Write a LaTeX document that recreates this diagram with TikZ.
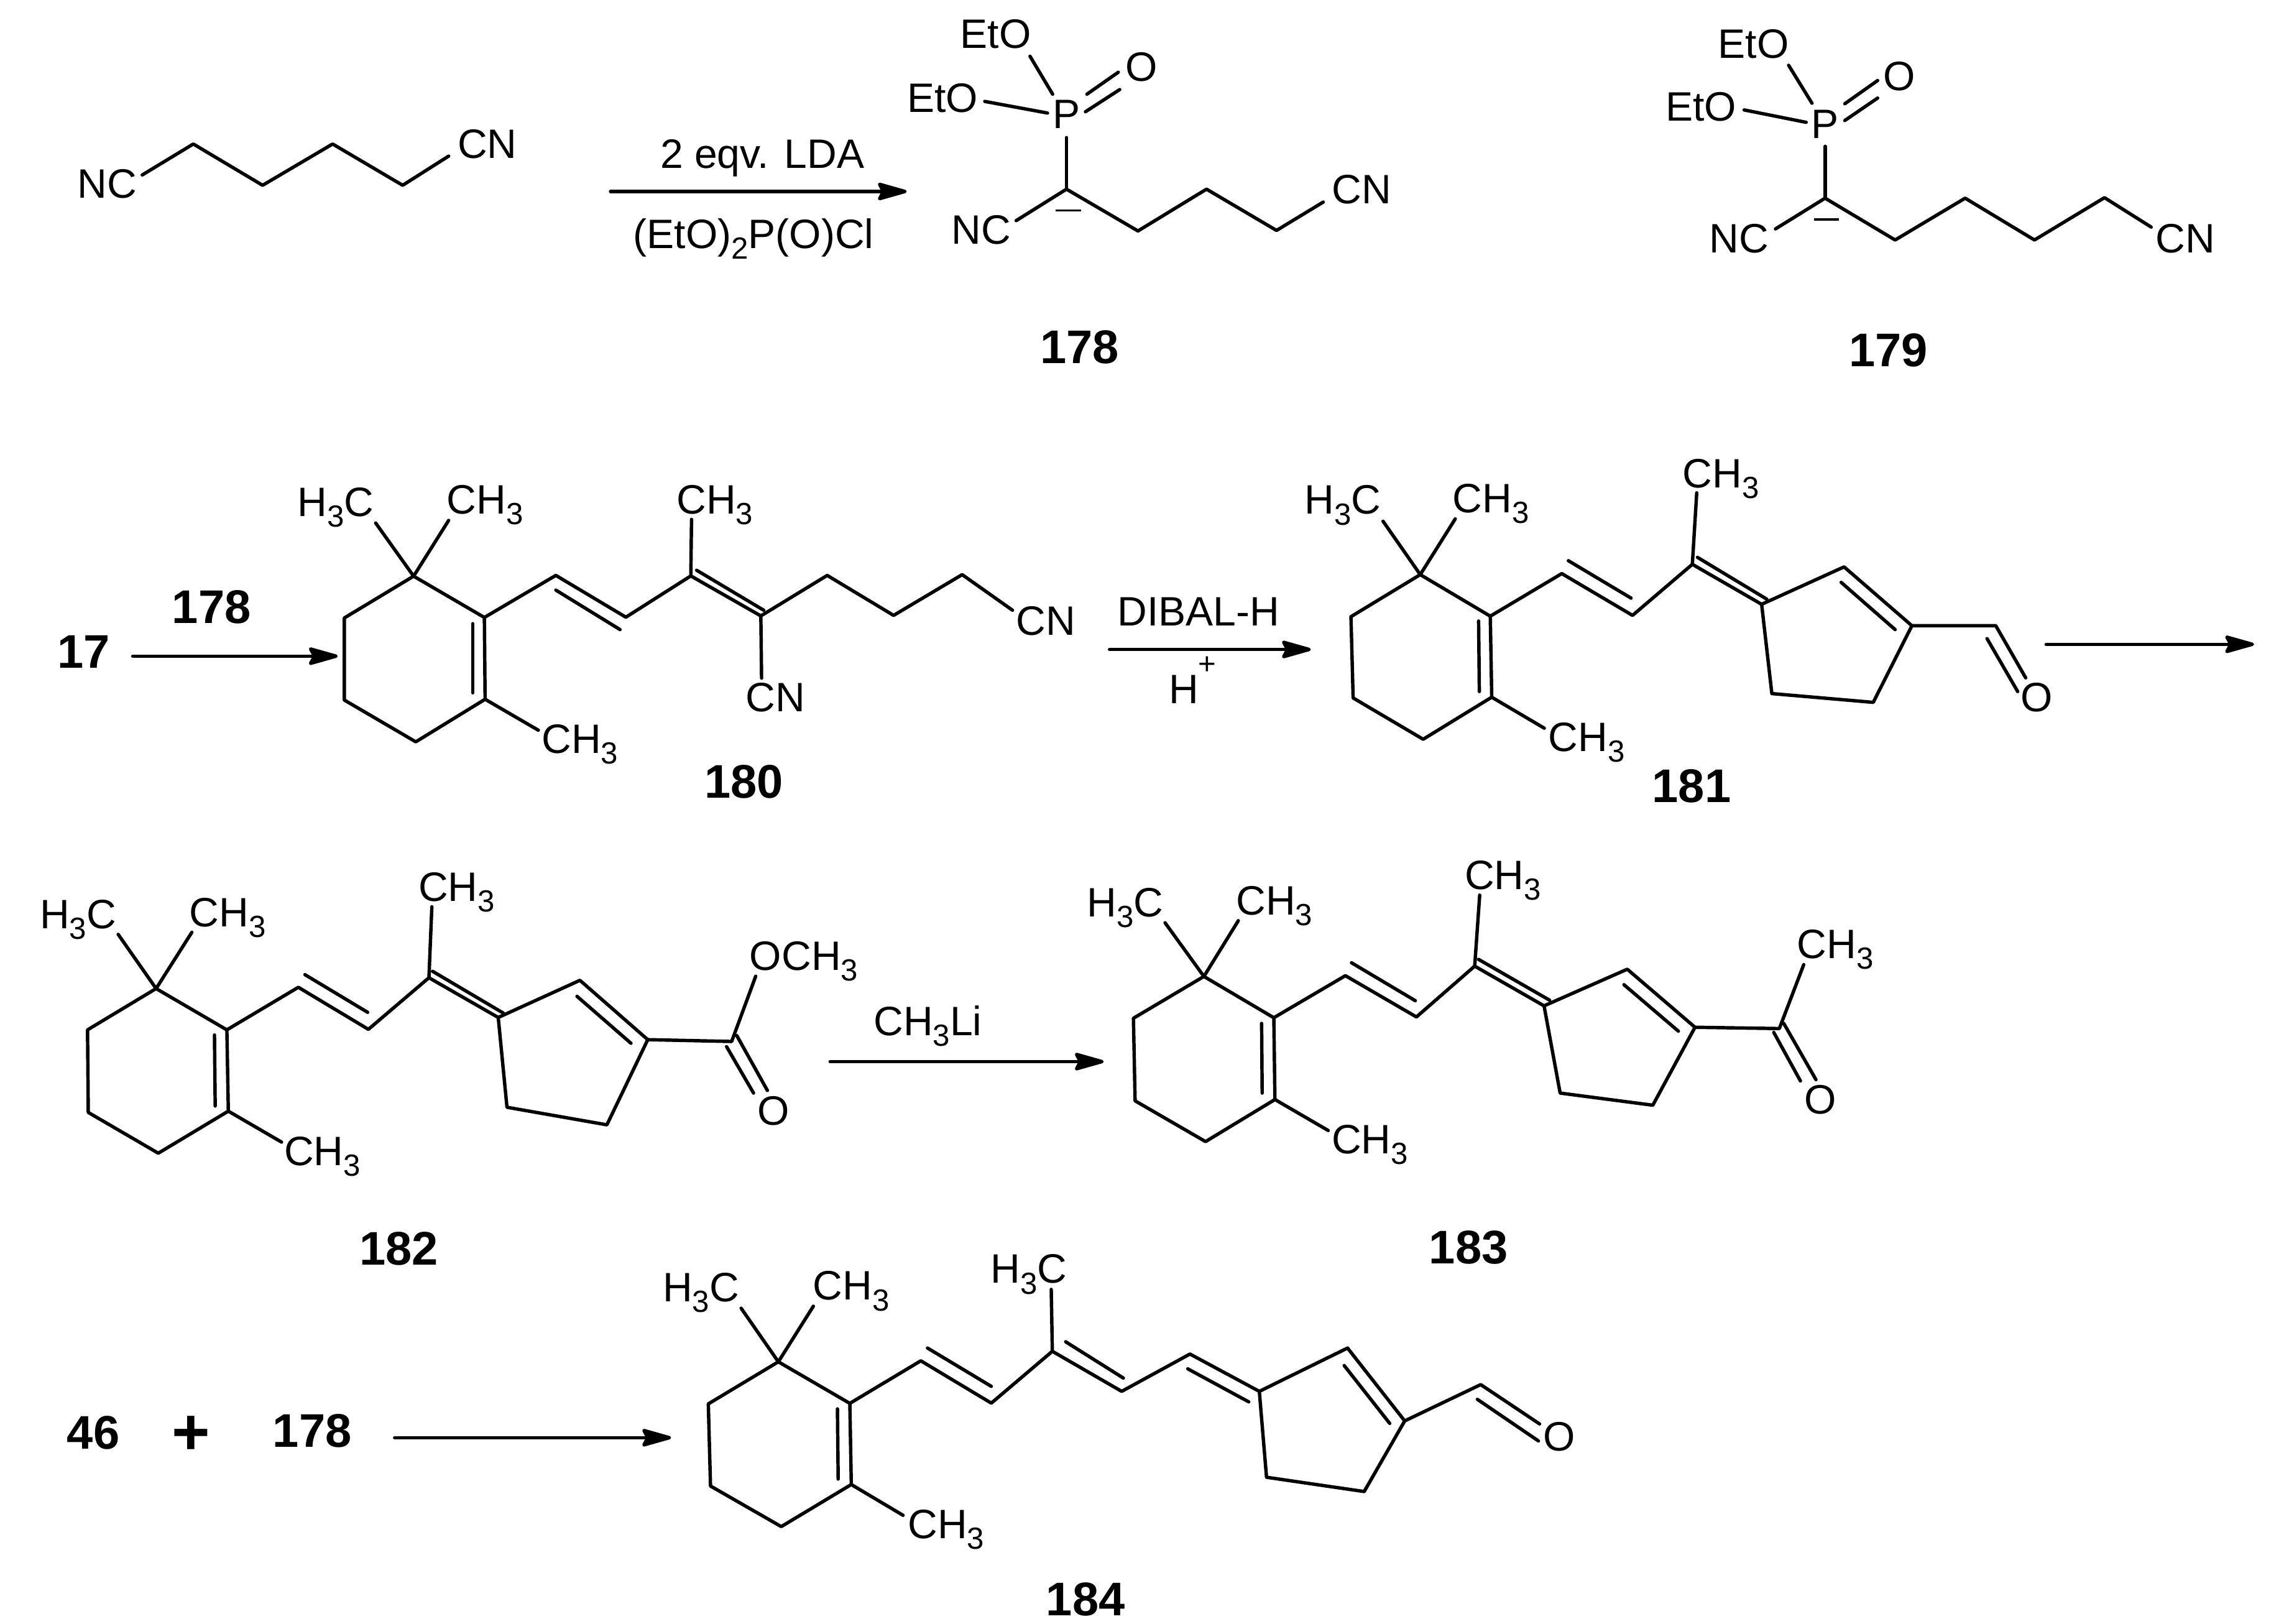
\documentclass[tikz,border=0pt]{standalone}
\usepackage{fontspec}
\setmainfont{Liberation Sans}
\usetikzlibrary{arrows.meta}
\newcommand\subd[1]{\raisebox{-4.9pt}{\fontsize{14}{14}\selectfont #1}}
\tikzset{
  bond/.style={draw=black,line width=1.55pt,line join=round,line cap=round},
  minus/.style={draw=black,line width=1pt},
  lab/.style={inner sep=0pt,text height=13.6pt,text depth=0pt,font=\fontsize{18.8}{19}\selectfont,text=black},
  num/.style={inner sep=0pt,text height=15.5pt,text depth=0pt,font=\fontsize{21.6}{21.6}\selectfont\bfseries,text=black},
  rxn/.style={draw=black,line width=1.55pt,line cap=round,-{Stealth[length=0.56cm,width=0.31cm,inset=0.08cm,round]}},
  za/.style={x=0.011741cm,y=-0.0041454cm},
  zb/.style={x=0.008929cm,y=-0.0041454cm},
  zc/.style={x=0.011741cm,y=-0.0040242cm},
  zd/.style={x=0.008929cm,y=-0.0040242cm}
}
\begin{document}
\begin{tikzpicture}
\useasboundingbox (0cm,0cm) rectangle (36.82cm,-26.11cm);
% ---------- region 1 ----------
\begin{scope}[za]
\node[lab] (nc0) at (147,710) {NC};
\node[lab] (cn0) at (668,555) {CN};
\draw[bond] (195,678) -- (265,558) -- (360,718) -- (456,558) -- (552,718) -- (615,605);
\coordinate (a1s) at (837,742); \coordinate (a1e) at (1243,742);
\draw[rxn] (a1s) -- (a1e);
\node[lab] (r1a) at (1045,595) {2 eqv. LDA};
\node[lab] (r1b) at (1033,905) {(EtO)\subd{2}P(O)Cl};
\node[lab] (eto1) at (1365,130) {EtO};
\node[lab] (eto2) at (1292,377) {EtO};
\node[lab] (p178) at (1462,440) {P};
\node[lab] (o178) at (1565,258) {O};
\draw[bond] (1412,218) -- (1443,365);
\draw[bond] (1350,393) -- (1436,438);
\draw[bond] (1490,365) -- (1533,280);
\draw[bond] (1488,433) -- (1535,347);
\draw[bond] (1462,533) -- (1462,733);
\draw[bond] (1393,855) -- (1462,733) -- (1560,895);
\coordinate (c178) at (1560,895);
\node[lab] (nc178) at (1345,888) {NC};
\draw[minus] (1447,815) -- (1482,815);
\node[num] (n178) at (1480,1342) {178};
\end{scope}
% ---------- region 2 ----------
\begin{scope}[shift={(18.41cm,0cm)},za]
\draw[bond] (c178) -- (85,733) -- (181,893) -- (245,783);
\node[lab] (cn178) at (298,732) {CN};
\node[lab] (eto3) at (835,167) {EtO};
\node[lab] (eto4) at (763,410) {EtO};
\node[lab] (p179) at (933,478) {P};
\node[lab] (o179) at (1035,292) {O};
\draw[bond] (883,253) -- (915,400);
\draw[bond] (822,426) -- (907,474);
\draw[bond] (960,402) -- (1005,312);
\draw[bond] (960,467) -- (1005,380);
\draw[bond] (933,567) -- (933,768);
\draw[bond] (865,887) -- (933,768) -- (1029,930) -- (1125,768) -- (1220,930) -- (1316,766) -- (1380,880);
\draw[minus] (918,850) -- (952,850);
\node[lab] (nc179) at (815,922) {NC};
\node[lab] (cn179) at (1427,922) {CN};
\node[num] (n179) at (1020,1355) {179};
\end{scope}
% ---------- region 3 : 180 ----------
\begin{scope}[shift={(0cm,-7.2cm)},za]
\node[num] (s17) at (115,788) {17};
\node[num] (r178a) at (290,615) {178};
\coordinate (a2s) at (182,808); \coordinate (a2e) at (463,808);
\draw[rxn] (a2s) -- (a2e);
\draw[bond] (567,498) -- (472,660) -- (472,978) -- (570,1140) -- (665,975) -- (664,658) -- cycle;
\draw[bond] (648,682) -- (648,950);
\draw[bond] (515,292) -- (567,498) -- (615,282);
\draw[bond] (665,975) -- (738,1095);
\node[lab] (a180) at (460,208) {H\subd{3}C};
\node[lab] (b180) at (665,199) {CH\subd{3}};
\node[lab] (c180) at (795,1127) {CH\subd{3}};
\draw[bond] (664,658) -- (762,495) -- (858,657) -- (947,497) -- (1043,652) -- (1134,495) -- (1225,650) -- (1319,492) -- (1388,630);
\draw[bond] (762,552) -- (850,705);
\draw[bond] (955,475) -- (1047,630);
\draw[bond] (947,497) -- (948,278);
\draw[bond] (1043,652) -- (1044,893);
\node[lab] (d180) at (980,199) {CH\subd{3}};
\node[lab] (e180) at (1063,965) {CN};
\node[lab] (f180) at (1434,670) {CN};
\node[num] (n180) at (1020,1293) {180};
\end{scope}
% ---------- region 4 : 181 ----------
\begin{scope}[shift={(18.41cm,-7.2cm)},za]
\node[lab] (r3a) at (74,632) {DIBAL-H};
\node[lab] (r3b) at (66,935) {H\raisebox{13.6pt}{\fontsize{14}{14}\selectfont +}};
\coordinate (a3s) at (-48,782); \coordinate (a3e) at (228,782);
\draw[rxn] (a3s) -- (a3e);
\draw[bond] (378,492) -- (283,655) -- (286,970) -- (382,1130) -- (476,967) -- (474,653) -- cycle;
\draw[bond] (458,672) -- (459,945);
\draw[bond] (327,285) -- (378,492) -- (426,276);
\draw[bond] (476,967) -- (548,1087);
\node[lab] (a181) at (272,200) {H\subd{3}C};
\node[lab] (b181) at (475,193) {CH\subd{3}};
\node[lab] (c181) at (606,1120) {CH\subd{3}};
\node[lab] (d181) at (790,97) {CH\subd{3}};
\draw[bond] (474,653) -- (572,488) -- (669,650) -- (751,452) -- (846,607);
\draw[bond] (581,438) -- (667,583);
\draw[bond] (758,425) -- (853,587);
\draw[bond] (751,452) -- (757,175);
\draw[bond] (846,607) -- (959,462) -- (1052,690) -- (999,987) -- (860,953) -- cycle;
\draw[bond] (955,522) -- (1029,705);
\draw[bond] (1052,690) -- (1167,690) -- (1208,892);
\draw[bond] (1155,740) -- (1197,945);
\node[lab] (o181) at (1223,965) {O};
\node[num] (n181) at (750,1310) {181};
\coordinate (a4s) at (1236,762); \coordinate (a4e) at (1521,762);
\draw[rxn] (a4s) -- (a4e);
\end{scope}
% ---------- region 5 : 182 ----------
\begin{scope}[shift={(0cm,-13.7cm)},za]
\draw[bond] (214,530) -- (120,690) -- (121,1010) -- (217,1168) -- (313,1005) -- (311,690) -- cycle;
\draw[bond] (294,710) -- (295,985);
\draw[bond] (162,320) -- (214,530) -- (263,312);
\draw[bond] (313,1005) -- (386,1125);
\node[lab] (a182) at (107,240) {H\subd{3}C};
\node[lab] (b182) at (312,232) {CH\subd{3}};
\node[lab] (c182) at (442,1158) {CH\subd{3}};
\node[lab] (d182) at (626,133) {CH\subd{3}};
\draw[bond] (311,690) -- (409,525) -- (505,688) -- (588,488) -- (683,642);
\draw[bond] (418,476) -- (504,622);
\draw[bond] (593,463) -- (690,625);
\draw[bond] (588,488) -- (592,213);
\draw[bond] (683,642) -- (795,498) -- (888,728) -- (832,1058) -- (695,990) -- cycle;
\draw[bond] (791,560) -- (865,742);
\draw[bond] (888,728) -- (1003,735) -- (1036,482);
\draw[bond] (1010,712) -- (1052,925);
\draw[bond] (996,755) -- (1033,935);
\node[lab] (o182) at (1060,1002) {O};
\node[lab] (e182) at (1102,401) {OCH\subd{3}};
\node[lab] (r5) at (1272,655) {CH\subd{3}Li};
\coordinate (a5s) at (1138,813); \coordinate (a5e) at (1513,813);
\draw[rxn] (a5s) -- (a5e);
\end{scope}
% ---------- region 6 : 183 ----------
\begin{scope}[shift={(17cm,-13.7cm)},zb]
\draw[bond] (265,483) -- (138,645) -- (141,965) -- (268,1123) -- (393,960) -- (391,643) -- cycle;
\draw[bond] (369,665) -- (370,935);
\draw[bond] (195,275) -- (265,483) -- (327,267);
\draw[bond] (393,960) -- (489,1080);
\node[lab] (a183) at (123,193) {H\subd{3}C};
\node[lab] (b183) at (392,186) {CH\subd{3}};
\node[lab] (c183) at (564,1112) {CH\subd{3}};
\node[lab] (d183) at (804,87) {CH\subd{3}};
\draw[bond] (391,643) -- (520,480) -- (648,640) -- (753,443) -- (878,597);
\draw[bond] (531,430) -- (646,577);
\draw[bond] (760,417) -- (888,575);
\draw[bond] (753,443) -- (762,168);
\draw[bond] (878,597) -- (1028,455) -- (1150,680) -- (1074,982) -- (907,935) -- cycle;
\draw[bond] (1022,515) -- (1120,695);
\draw[bond] (1150,680) -- (1302,685) -- (1346,437);
\draw[bond] (1310,665) -- (1368,883);
\draw[bond] (1292,700) -- (1340,888);
\node[lab] (o183) at (1376,957) {O};
\node[lab] (e183) at (1403,355) {CH\subd{3}};
\end{scope}
% ---------- region 7 : left of 184 ----------
\begin{scope}[shift={(0cm,-19.8cm)},zc]
\node[num] (n182) at (547,68) {182};
\node[num] (s46) at (128,802) {46};
\node[inner sep=0pt,text height=20pt,text depth=0pt,font=\fontsize{30}{30}\selectfont\bfseries] (plus) at (262,805) {+};
\node[num] (r178b) at (428,795) {178};
\coordinate (a6s) at (541,825); \coordinate (a6e) at (920,825);
\draw[rxn] (a6s) -- (a6e);
\draw[bond] (1067,522) -- (971,690) -- (974,1018) -- (1071,1180) -- (1167,1012) -- (1165,688) -- cycle;
\draw[bond] (1148,710) -- (1149,990);
\draw[bond] (1016,308) -- (1067,522) -- (1115,300);
\draw[bond] (1167,1012) -- (1238,1135);
\node[lab] (a184) at (961,223) {H\subd{3}C};
\node[lab] (b184) at (1167,216) {CH\subd{3}};
\node[lab] (c184) at (1297,1167) {CH\subd{3}};
\end{scope}
% ---------- region 8 : right of 184 ----------
\begin{scope}[shift={(13cm,-19.8cm)},zd]
\node[num] (n183) at (1190,62) {183};
\draw[bond] (75,688) -- (203,518) -- (330,687) -- (440,480) -- (565,640) -- (688,491) -- (813,640);
\draw[bond] (215,467) -- (330,620);
\draw[bond] (464,442) -- (568,587);
\draw[bond] (684,550) -- (794,682);
\draw[bond] (440,480) -- (438,233);
\node[lab] (d184) at (398,149) {H\subd{3}C};
\draw[bond] (813,640) -- (972,467) -- (1075,758) -- (1002,1040) -- (826,983) -- cycle;
\draw[bond] (966,537) -- (1048,768);
\draw[bond] (1075,758) -- (1212,613) -- (1318,770);
\draw[bond] (1206,672) -- (1316,838);
\node[lab] (o184) at (1354,818) {O};
\node[num] (n184) at (500,1468) {184};
\end{scope}
\end{tikzpicture}
\end{document}
